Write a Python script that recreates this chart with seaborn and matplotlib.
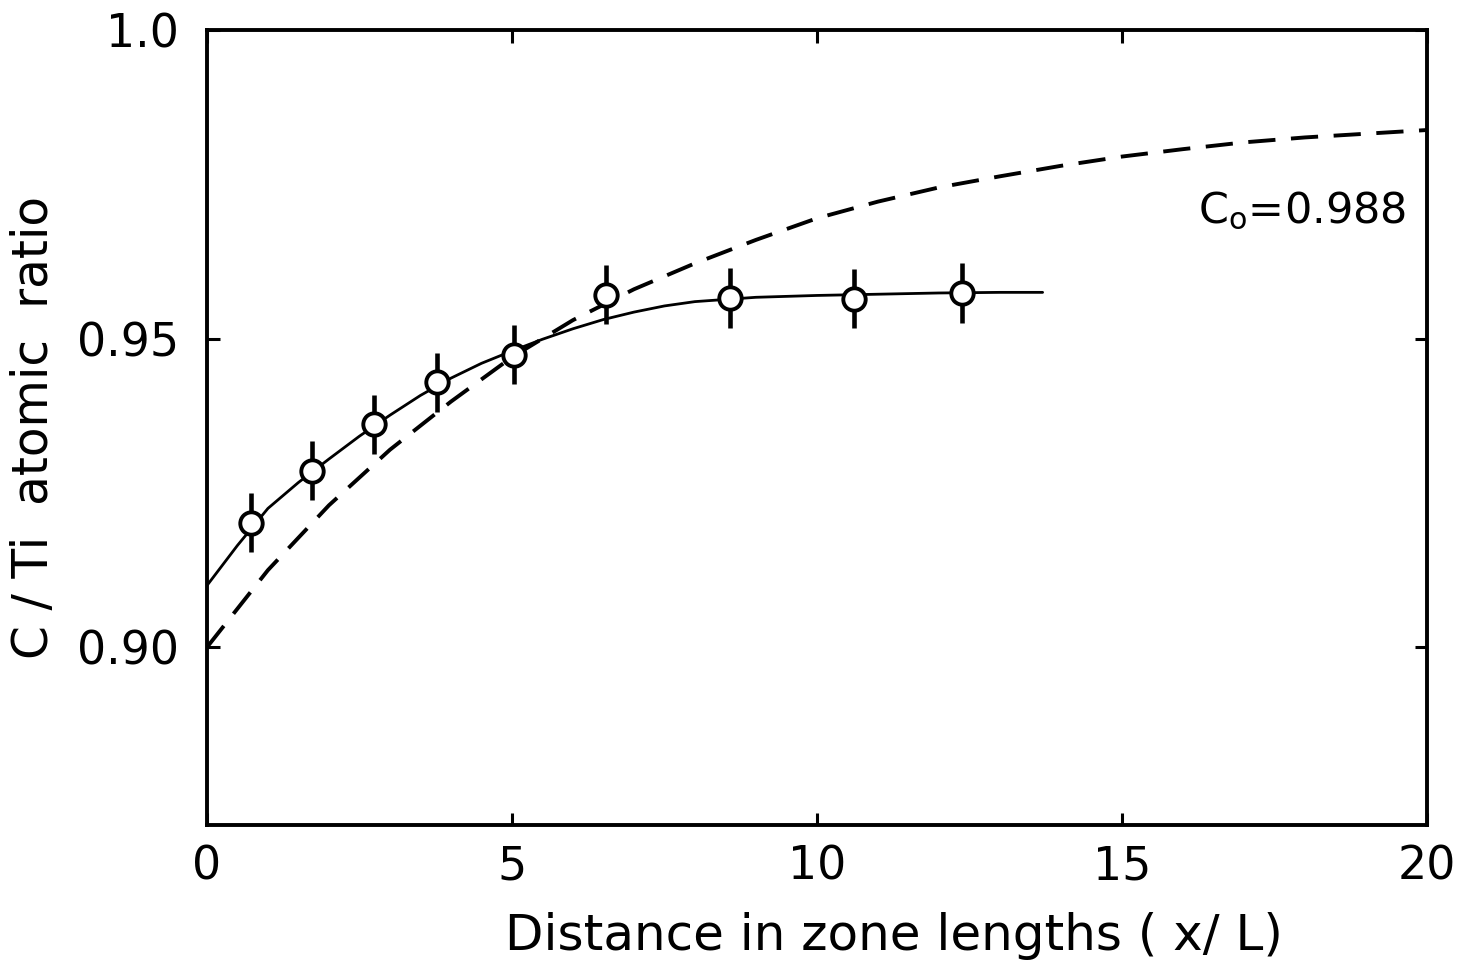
import numpy as np
import pandas as pd
import matplotlib
matplotlib.use('Agg')
import matplotlib.pyplot as plt
import seaborn as sns

# measured points (C/Ti ratio vs distance)
x_pts = [0.72, 1.72, 2.74, 3.77, 5.03, 6.54, 8.57, 10.61, 12.38]
y_pts = [0.9202, 0.9286, 0.9361, 0.9429, 0.9474, 0.9571, 0.9566, 0.9565, 0.9574]
y_err = [0.0048, 0.0048, 0.0048, 0.0048, 0.0048, 0.0048, 0.0048, 0.0048, 0.0048]

# solid fitted curve
x_solid = [0, 0.5, 1, 1.5, 2, 2.5, 3, 3.5, 4, 4.5, 5, 5.5, 6, 6.5, 7, 7.5, 8, 9, 10, 11, 12, 13, 13.7]
y_solid = [0.910, 0.9165, 0.9225, 0.9267, 0.9305, 0.9342, 0.9376, 0.9408, 0.9436, 0.9460, 0.9480,
           0.9499, 0.9516, 0.9531, 0.9543, 0.9553, 0.9560, 0.9567, 0.9570, 0.9572, 0.9574, 0.9575, 0.9575]

# dashed curve (C0 = 0.988)
x_dash = [0, 1, 2, 3, 4, 5, 6, 7, 8, 9, 10, 11, 12, 13, 14, 15, 16, 17, 18, 19, 20]
y_dash = [0.900, 0.9125, 0.9230, 0.9320, 0.9398, 0.9470, 0.9530, 0.9580, 0.9622, 0.9660, 0.9695,
          0.9722, 0.9745, 0.9763, 0.9780, 0.9795, 0.9807, 0.9818, 0.9826, 0.9832, 0.9838]

x_ticks = [0, 5, 10, 15, 20]
y_ticks = [0.90, 0.95, 1.0]
y_ticklabels = ['0.90', '0.95', '1.0']

sns.set_style('ticks', rc={'text.color': 'black', 'axes.labelcolor': 'black',
                           'xtick.color': 'black', 'ytick.color': 'black',
                           'axes.edgecolor': 'black'})
plt.rcParams['font.family'] = ['DejaVu Sans']

fig = plt.figure(figsize=(14.75, 9.75), dpi=100)
ax = fig.add_axes([0.1403, 0.1538, 0.8271, 0.8154])

solid = pd.DataFrame({'x': x_solid, 'y': y_solid})
dash = pd.DataFrame({'x': x_dash, 'y': y_dash})
pts = pd.DataFrame({'x': x_pts, 'y': y_pts})

sns.lineplot(data=dash, x='x', y='y', ax=ax, color='black', lw=2.8,
             linestyle=(0, (7, 4)), estimator=None, sort=False)
sns.lineplot(data=solid, x='x', y='y', ax=ax, color='black', lw=2.0,
             estimator=None, sort=False)
ax.errorbar(x_pts, y_pts, yerr=y_err, fmt='none', ecolor='black', elinewidth=3.3, capsize=0, zorder=3)
sns.scatterplot(data=pts, x='x', y='y', ax=ax, marker='o', s=260, facecolor='white',
                edgecolor='black', linewidth=2.8, zorder=4)

ax.text(16.25, 0.9707, r'C$_\mathregular{o}$=0.988', fontsize=31, va='center', ha='left')

ax.set_xlim(0, 20)
ax.set_ylim(0.8712, 1.0)
ax.set_xticks(x_ticks)
ax.set_yticks(y_ticks)
ax.set_yticklabels(y_ticklabels)
ax.tick_params(direction='in', length=9, width=2.2, top=True, right=True, labelsize=33)
ax.tick_params(axis='y', pad=20)
ax.tick_params(axis='x', pad=14)
for sp in ax.spines.values():
    sp.set_linewidth(2.8)
ax.set_xlabel('Distance in zone lengths ( x/ L)', fontsize=36)
ax.xaxis.set_label_coords(0.563, -0.11)
ax.set_ylabel('C / Ti  atomic  ratio', fontsize=35, labelpad=14)

fig.savefig('out.png', dpi=100)
plt.close()
